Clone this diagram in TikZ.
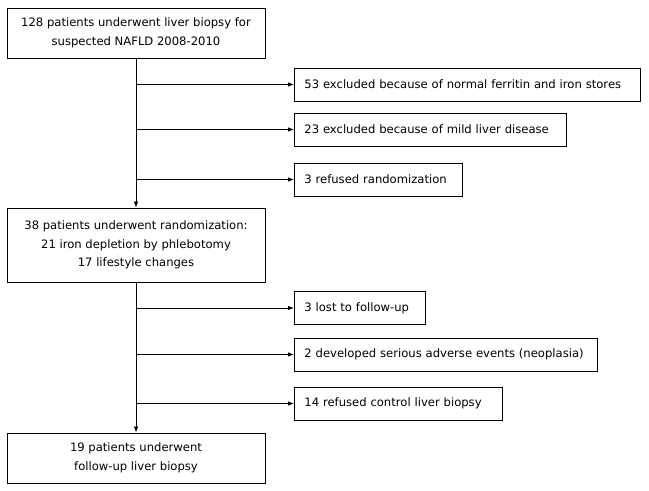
\documentclass[tikz,border=0pt]{standalone}
\usepackage{fontspec}
\setmainfont{DejaVu Sans}
\usetikzlibrary{positioning, arrows.meta}
\tikzset{>={Latex[length=6bp,width=4.5bp]}}
\tikzset{
	mainbox/.style={draw, line width=0.8bp, align=center, minimum width=258bp, inner sep=0pt},
	sidebox/.style={draw, line width=0.8bp, anchor=west, minimum height=33bp, inner xsep=10bp, inner ysep=0pt, text width=#1, align=left},
	flow/.style={->, line width=0.8bp}
}

\begin{document}
\begin{tikzpicture}[x=1bp, y=-1bp, font=\fontsize{11.6bp}{18.5bp}\selectfont]
	\useasboundingbox (0,0) rectangle (649,491);

	% main column
	\node[mainbox, minimum height=50bp] (start) at (136,33) {128 patients underwent liver biopsy for\\suspected NAFLD 2008-2010};
	\node[mainbox, minimum height=74bp] (rand) at (136,245) {38 patients underwent randomization:\\21 iron depletion by phlebotomy\\17 lifestyle changes};
	\node[mainbox, minimum height=50bp] (final) at (136,458) {19 patients underwent\\follow-up liver biopsy};

	% excluded before randomization
	\node[sidebox=326bp] (ex1) at (294,84.5) {53 excluded because of normal ferritin and iron stores};
	\node[sidebox=252bp] (ex2) at (294,129.5) {23 excluded because of mild liver disease};
	\node[sidebox=148bp] (ex3) at (294,179.5) {3 refused randomization};

	% excluded after randomization
	\node[sidebox=111bp] (ex4) at (294,308) {3 lost to follow-up};
	\node[sidebox=283bp] (ex5) at (294,354.5) {2 developed serious adverse events (neoplasia)};
	\node[sidebox=188bp] (ex6) at (294,403.5) {14 refused control liver biopsy};

	\draw[flow] (start) -- (rand);
	\draw[flow] (rand) -- (final);

	\foreach \b/\n in {b1/ex1, b2/ex2, b3/ex3}{
		\coordinate (\b) at (start.south |- \n.west);
		\draw[flow] (\b) -- (\n);
	}
	\foreach \b/\n in {b4/ex4, b5/ex5, b6/ex6}{
		\coordinate (\b) at (rand.south |- \n.west);
		\draw[flow] (\b) -- (\n);
	}
\end{tikzpicture}
\end{document}
